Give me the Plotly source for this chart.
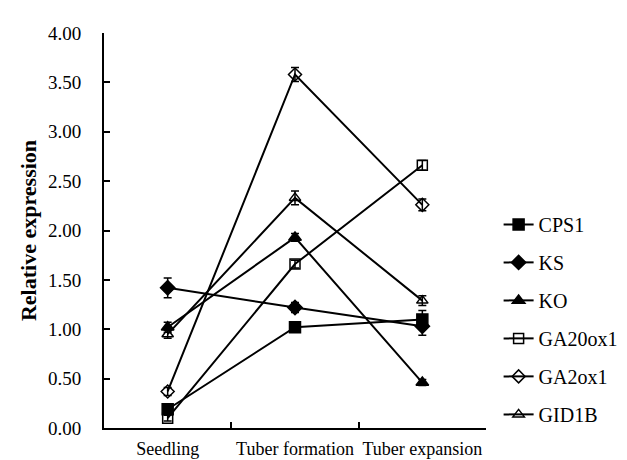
import plotly.graph_objects as go

stages = ["Seedling", "Tuber formation", "Tuber expansion"]
genes = ["CPS1", "KS", "KO", "GA20ox1", "GA2ox1", "GID1B"]
cps1 = [0.19, 1.02, 1.10]
ks = [1.42, 1.22, 1.03]
ko = [1.02, 1.93, 0.46]
ga20ox1 = [0.10, 1.66, 2.66]
ga2ox1 = [0.37, 3.58, 2.26]
gid1b = [0.95, 2.33, 1.29]
cps1_err = [0.05, 0.03, 0.09]
ks_err = [0.10, 0.05, 0.09]
ko_err = [0.05, 0.04, 0.03]
ga20ox1_err = [0.03, 0.04, 0.05]
ga2ox1_err = [0.04, 0.07, 0.06]
gid1b_err = [0.04, 0.07, 0.05]

values = [cps1, ks, ko, ga20ox1, ga2ox1, gid1b]
errors = [cps1_err, ks_err, ko_err, ga20ox1_err, ga2ox1_err, gid1b_err]
symbols = ["square", "diamond", "triangle-up", "square-open", "diamond-open", "triangle-up-open"]
sizes = [11, 11, 11, 10, 10, 10]

FONT = "Liberation Serif"

fig = go.Figure()
for g, v, e, s, sz in zip(genes, values, errors, symbols, sizes):
    fig.add_trace(go.Scatter(
        x=stages, y=v, name=g, mode="lines+markers",
        line=dict(color="black", width=2),
        marker=dict(symbol=s, size=sz, color="black", line=dict(color="black", width=1.5)),
        error_y=dict(type="data", array=e, visible=True, color="black", thickness=1.5, width=4),
        legendgroup=g,
    ))

fig.update_layout(
    width=627, height=460,
    margin=dict(l=96, r=129, t=25, b=40),
    plot_bgcolor="white", paper_bgcolor="white",
    font=dict(family=FONT, color="black", size=20),
    showlegend=True,
    legend=dict(x=1.033, y=0.275, xanchor="left", yanchor="middle",
                traceorder="grouped", tracegroupgap=9,
                font=dict(family=FONT, size=20, color="black"),
                itemwidth=30, bgcolor="rgba(0,0,0,0)"),
)
fig.update_xaxes(
    type="category", range=[-0.5, 2.5], automargin=False,
    showline=True, linecolor="black", linewidth=2,
    ticks="inside", tickson="boundaries", ticklen=6, tickwidth=1.5, tickcolor="black",
    showgrid=False, zeroline=False, ticklabelstandoff=3, tickangle=0,
    tickfont=dict(family=FONT, size=18, color="black"),
)
fig.update_yaxes(
    range=[0, 4], dtick=0.5, tick0=0, tickformat=".2f", automargin=False,
    showline=True, linecolor="black", linewidth=2,
    ticks="inside", ticklen=6, tickwidth=1.5, tickcolor="black",
    showgrid=False, zeroline=False, ticklabelstandoff=17,
    tickfont=dict(family=FONT, size=19, color="black"),
    title=dict(text="<b>Relative expression</b>", font=dict(family=FONT, size=22, color="black"), standoff=5),
)

fig.write_html("out.html")
